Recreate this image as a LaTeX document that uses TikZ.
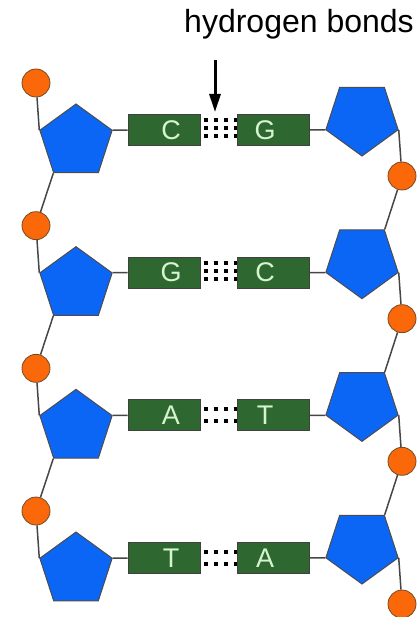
\documentclass[tikz,border=0pt]{standalone}
\usepackage{fontspec}
\setmainfont{Liberation Sans}
\usetikzlibrary{arrows.meta,shapes.geometric}
\definecolor{SugarBlue}{RGB}{12,102,245}
\definecolor{BaseGreen}{RGB}{46,104,48}
\definecolor{BaseText}{RGB}{214,244,208}
\definecolor{PhosOrange}{RGB}{250,104,10}
\definecolor{StrandGray}{RGB}{70,70,70}

\begin{document}
\begin{tikzpicture}[x=1pt,y=-1pt,
    sugar/.style={regular polygon, regular polygon sides=5, minimum size=76pt, inner sep=0pt,
        fill=SugarBlue, draw=black!70, line width=1pt},
    base/.style={rectangle, minimum width=72pt, minimum height=31pt, inner sep=0pt,
        fill=BaseGreen, draw=black!75, line width=1pt, text=BaseText, font=\fontsize{27}{27}\selectfont},
    phosphate/.style={circle, minimum size=28pt, inner sep=0pt, fill=PhosOrange,
        draw=brown!60!black, line width=0.8pt},
    backbone/.style={StrandGray, line width=1.5pt},
    hbond/.style={black, line width=4pt, dash pattern=on 4pt off 6pt, dash phase=7pt}]
    \useasboundingbox (0,0) rectangle (416,617);
    % Label and arrow pointing at the bonds
    \node[font=\fontsize{32}{32}\selectfont, anchor=base] (hlabel) at (299,33) {hydrogen bonds};
    \coordinate (hbtop) at (215,60);
    \coordinate (hbtip) at (215,112);
    \draw[-{Triangle[length=18pt,width=11pt]}, line width=3pt] (hbtop) -- (hbtip);
    % One base pair per row
    \foreach \b/\p/\n [count=\i] in {C/G/3,G/C/3,A/T/2,T/A/2} {
        \pgfmathsetmacro{\y}{130+142.67*(\i-1)}
        \node[phosphate] (lp\i) at (36,\y-47) {};
        \node[sugar] (ls\i) at (76,\y+12) {};
        \node[base] (lb\i) at (164,\y) {\hspace*{14pt}\b};
        \node[base] (rb\i) at (273,\y) {\p\hspace*{16pt}};
        \node[sugar, shape border rotate=180] (rs\i) at (362,\y-12) {};
        \node[phosphate] (rp\i) at (402,\y+46) {};
        \draw[backbone] (lp\i) -- (ls\i.corner 2);
        \draw[backbone] (ls\i.corner 5) -- (lb\i);
        \draw[backbone] (rb\i) -- (rs\i.corner 5);
        \draw[backbone] (rs\i.corner 2) -- (rp\i);
        % Hydrogen bonds: three for C-G, two for A-T
        \ifnum\n=3 \def\bonds{9.5,1.5,-6.5}\else\def\bonds{6.5,-5.5}\fi
        \foreach \o in \bonds {
            \draw[hbond] ([yshift=\o pt]lb\i.east) -- ([yshift=\o pt]rb\i.west);
        }
    }
    % Backbone links between rows
    \foreach \i/\j in {1/2,2/3,3/4} {
        \draw[backbone] (ls\i.corner 3) -- (lp\j);
        \draw[backbone] (rp\i) -- (rs\j.corner 3);
    }
\end{tikzpicture}
\end{document}
